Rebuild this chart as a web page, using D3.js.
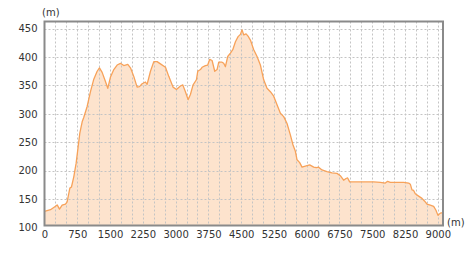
<!DOCTYPE html>
<html>
<head>
<meta charset="utf-8">
<script src="https://cdn.jsdelivr.net/npm/d3@7"></script>
<style>
  body { margin: 0; background: #fff; }
  svg text { font-family: "DejaVu Sans", Verdana, sans-serif; font-size: 10px; fill: #333; }
</style>
</head>
<body>
<div id="chart"></div>
<script>
// distance along route (m)
const distances = [
  0, 137, 252, 290, 343, 404, 480, 518, 580, 617, 670, 724, 770, 808, 862, 900,
  976, 1052, 1128, 1205, 1258, 1319, 1395, 1448, 1510, 1586, 1662, 1738, 1814, 1906,
  1967, 2043, 2119, 2173, 2234, 2310, 2348, 2425, 2501, 2577, 2653, 2768, 2844, 2943,
  3019, 3110, 3164, 3225, 3286, 3339, 3400, 3476, 3507, 3568, 3606, 3682, 3735, 3781,
  3835, 3896, 3949, 3987, 4063, 4101, 4140, 4193, 4254, 4308, 4369, 4430, 4483, 4521,
  4559, 4613, 4658, 4712, 4788, 4864, 4940, 5016, 5092, 5169, 5245, 5321, 5398, 5474,
  5550, 5626, 5687, 5741, 5779, 5840, 5893, 5969, 6068, 6160, 6220, 6273, 6350, 6464,
  6579, 6693, 6769, 6845, 6899, 6937, 6983, 7074, 7227, 7379, 7532, 7684, 7799, 7852,
  7913, 8066, 8218, 8333, 8371, 8409, 8447, 8485, 8561, 8638, 8699, 8752, 8828, 8905,
  8958, 9004, 9057, 9125
]
// elevation (m)
const elevations = [
  128, 131, 137, 139.5, 132, 139, 141, 145, 169, 171, 189, 213, 242, 266, 286, 294,
  313, 339, 361, 375, 381, 373, 357, 345, 365, 378, 386, 389, 385, 387,
  381, 366, 347, 348, 353, 356, 352, 375, 392, 392, 388, 382, 366, 347,
  343, 349, 351, 339, 325, 334, 351, 360, 375, 378, 382, 385, 386, 396,
  394, 375, 378, 391, 391, 389, 383, 401, 407, 413, 427, 436, 440, 448,
  439, 441, 437, 430, 413, 401, 386, 360, 345, 339, 331, 316, 301, 295,
  283, 263, 245, 234, 219, 214, 206, 208, 210, 206, 205, 206, 201, 198,
  196, 195, 191, 183, 186, 187, 180, 180, 180, 180, 180, 179, 178, 181,
  179, 179, 179, 178, 176, 166, 165, 159, 155, 151, 146, 141, 139, 137,
  130, 121, 125, 126
]
const xTickLabels = [0, 750, 1500, 2250, 3000, 3750, 4500, 5250, 6000, 6750, 7500, 8250, 9000]
const yTickLabels = [100, 150, 200, 250, 300, 350, 400, 450]

const data = distances.map((d, i) => ({ d: d, e: elevations[i] }))

const w = 473
const h = 254
const plot = { left: 44.5, right: 443, top: 21.5, bottom: 225.5 }

const x = d3.scaleLinear()
  .domain([0, 9000])
  .range([44.5, 437.8])

const y = d3.scaleLinear()
  .domain([100, 450])
  .range([227.3, 28.7])

const svg = d3.select('#chart')
  .append('svg')
  .attr('width', w)
  .attr('height', h)

svg.append('defs')
  .append('clipPath')
  .attr('id', 'plot-clip')
  .append('rect')
  .attr('x', plot.left)
  .attr('y', plot.top)
  .attr('width', plot.right - plot.left)
  .attr('height', plot.bottom - plot.top)

// grid: vertical every 250 m, horizontal every 50 m
const gridX = d3.range(250, 9001, 250)
const gridY = yTickLabels.filter(v => v > 100)

const grid = svg.append('g')
  .attr('clip-path', 'url(#plot-clip)')

// area + line
const area = d3.area()
  .x(p => x(p.d))
  .y0(plot.bottom)
  .y1(p => y(p.e))

const line = d3.line()
  .x(p => x(p.d))
  .y(p => y(p.e))

grid.append('path')
  .datum(data)
  .attr('d', area)
  .attr('fill', '#fde3cd')

grid.selectAll('line.gx')
  .data(gridX)
  .enter()
  .append('line')
  .attr('class', 'gx')
  .attr('x1', d => Math.round(x(d)) + 0.5)
  .attr('x2', d => Math.round(x(d)) + 0.5)
  .attr('y1', plot.top)
  .attr('y2', plot.bottom)
  .attr('stroke', '#c4c4c4')
  .attr('stroke-dasharray', '2,2')

grid.selectAll('line.gy')
  .data(gridY)
  .enter()
  .append('line')
  .attr('class', 'gy')
  .attr('x1', plot.left)
  .attr('x2', plot.right)
  .attr('y1', d => Math.round(y(d)) + 0.5)
  .attr('y2', d => Math.round(y(d)) + 0.5)
  .attr('stroke', '#c4c4c4')
  .attr('stroke-dasharray', '2,2')

grid.append('path')
  .datum(data)
  .attr('d', line)
  .attr('fill', 'none')
  .attr('stroke', '#f7a25a')
  .attr('stroke-width', 1.3)
  .attr('stroke-linejoin', 'round')

// frame
svg.append('rect')
  .attr('x', plot.left)
  .attr('y', plot.top)
  .attr('width', plot.right - plot.left)
  .attr('height', plot.bottom - plot.top)
  .attr('fill', 'none')
  .attr('stroke', '#8a8a8a')
  .attr('stroke-width', 2)

// axes (labels only)
const xAxis = d3.axisBottom(x)
  .tickValues(xTickLabels)
  .tickSize(0)
  .tickPadding(4)
  .tickFormat(d3.format('d'))

const yAxis = d3.axisLeft(y)
  .tickValues(yTickLabels)
  .tickSize(0)
  .tickPadding(6)
  .tickFormat(d3.format('d'))

const gx = svg.append('g')
  .attr('transform', 'translate(0,' + (plot.bottom + 1) + ')')
  .call(xAxis)
gx.select('.domain').remove()

const gy = svg.append('g')
  .attr('transform', 'translate(' + (plot.left - 1) + ',0)')
  .call(yAxis)
gy.select('.domain').remove()

svg.selectAll('.tick text')
  .attr('fill', '#333')
  .style('font-family', '"DejaVu Sans", Verdana, sans-serif')
  .style('font-size', '10px')

// unit labels
svg.append('text')
  .attr('x', 42)
  .attr('y', 16)
  .text('(m)')

svg.append('text')
  .attr('x', 447)
  .attr('y', 226)
  .text('(m)')
</script>
</body>
</html>
